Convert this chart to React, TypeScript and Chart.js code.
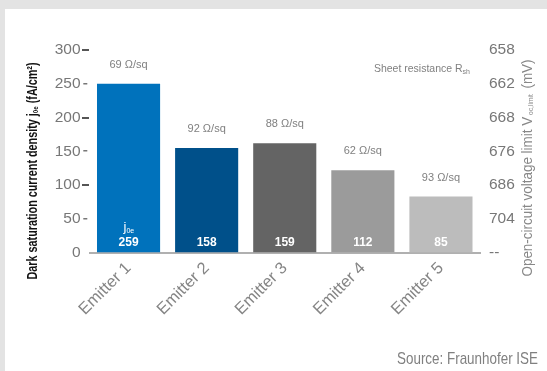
import { useEffect, useRef } from 'react';
import { Chart, registerables } from 'chart.js';

Chart.register(...registerables);

const categories = ['Emitter 1', 'Emitter 2', 'Emitter 3', 'Emitter 4', 'Emitter 5'];
const barHeights = [250, 155, 162, 122, 83];
const j0eLabels = ['259', '158', '159', '112', '85'];
const sheetResistance = ['69 Ω/sq', '92 Ω/sq', '88 Ω/sq', '62 Ω/sq', '93 Ω/sq'];
const barColors = ['#0072bc', '#00508a', '#646464', '#9b9b9b', '#bcbcbc'];
const leftTicks = [0, 50, 100, 150, 200, 250, 300];
const rightTickLabels = ['--', '704', '686', '676', '668', '662', '658'];

const FONT = "'Liberation Sans', Arial, sans-serif";

type Part = { text: string; size: number; dy: number };

function drawRich(ctx: CanvasRenderingContext2D, parts: Part[], cx: number, cy: number, weight: string, color: string, target: number, rotate: boolean) {
  ctx.save();
  let total = 0;
  const widths = parts.map(p => {
    ctx.font = `${weight} ${p.size}px ${FONT}`;
    const w = ctx.measureText(p.text).width;
    total += w;
    return w;
  });
  const sx = target > 0 ? target / total : 1;
  ctx.translate(cx, cy);
  if (rotate) ctx.rotate(-Math.PI / 2);
  ctx.scale(sx, 1);
  ctx.fillStyle = color;
  ctx.textBaseline = 'middle';
  ctx.textAlign = 'left';
  let x = -total / 2;
  parts.forEach((p, i) => {
    ctx.font = `${weight} ${p.size}px ${FONT}`;
    ctx.fillText(p.text, x, p.dy);
    x += widths[i];
  });
  ctx.restore();
}

const annotPlugin = {
  id: 'annot',
  afterDraw(chart: any) {
    const ctx: CanvasRenderingContext2D = chart.ctx;
    const ys = chart.scales.y;
    const area = chart.chartArea;
    // left tick dashes
    leftTicks.forEach(v => {
      if (v === 0) return;
      const py = Math.round(ys.getPixelForValue(v));
      if (v % 100 === 0) {
        ctx.fillStyle = '#555';
        ctx.fillRect(area.left - 7.5, py - 1, 7, 2);
      } else {
        ctx.fillStyle = '#777';
        ctx.fillRect(area.left - 6.2, py - 1, 4, 1.5);
      }
    });
    // bar annotations
    const meta = chart.getDatasetMeta(0);
    meta.data.forEach((el: any, i: number) => {
      ctx.save();
      ctx.textAlign = 'center';
      ctx.textBaseline = 'middle';
      ctx.fillStyle = '#808080';
      ctx.font = `11px ${FONT}`;
      ctx.fillText(sheetResistance[i], el.x, el.y - 19);
      ctx.fillStyle = '#ffffff';
      ctx.font = `bold 12px ${FONT}`;
      ctx.fillText(j0eLabels[i], el.x, el.base - 10);
      if (i === 0) {
        ctx.font = `13px ${FONT}`;
        ctx.textAlign = 'left';
        const jw = ctx.measureText('j').width;
        ctx.fillText('j', el.x - 5, el.base - 25);
        ctx.font = `7px ${FONT}`;
        ctx.fillText('0e', el.x - 5 + jw, el.base - 21);
      }
      ctx.restore();
    });
    // sheet resistance legend
    ctx.save();
    ctx.fillStyle = '#808080';
    ctx.textBaseline = 'middle';
    ctx.textAlign = 'right';
    ctx.font = `7px ${FONT}`;
    const subW = ctx.measureText('sh').width;
    ctx.fillText('sh', area.right - 10, area.top + 22);
    ctx.font = `10.5px ${FONT}`;
    ctx.fillText('Sheet resistance R', area.right - 10 - subW, area.top + 19);
    ctx.restore();
    // left title
    drawRich(ctx, [
      { text: 'Dark saturation current density j', size: 14, dy: 0 },
      { text: '0e', size: 8, dy: 3 },
      { text: ' (fA/cm²)', size: 14, dy: 0 },
    ], 28, 162, 'bold', '#111', 217, true);
    // right title
    drawRich(ctx, [
      { text: 'Open-circuit voltage limit V', size: 14, dy: 0 },
      { text: ' oc,limit ', size: 7, dy: 3 },
      { text: ' (mV)', size: 14, dy: 0 },
    ], 523, 159, 'normal', '#888', 217, true);
    // source
    ctx.save();
    ctx.font = `17px ${FONT}`;
    const sw = ctx.measureText('Source: Fraunhofer ISE').width;
    const sx = 141 / sw;
    ctx.translate(533, 355);
    ctx.scale(sx, 1);
    ctx.fillStyle = '#808080';
    ctx.textAlign = 'right';
    ctx.textBaseline = 'alphabetic';
    ctx.fillText('Source: Fraunhofer ISE', 0, 0);
    ctx.restore();
  },
};

export default function App() {
  const ref = useRef<HTMLCanvasElement | null>(null);
  useEffect(() => {
    if (!ref.current) return;
    const chart = new Chart(ref.current, {
      type: 'bar',
      data: {
        labels: categories,
        datasets: [
          {
            data: barHeights,
            backgroundColor: barColors,
            barPercentage: 0.808,
            categoryPercentage: 1,
            yAxisID: 'y',
          },
        ],
      },
      options: {
        animation: false,
        responsive: true,
        maintainAspectRatio: false,
        layout: { padding: { top: 41, left: 0, right: 0, bottom: 0 } },
        plugins: { legend: { display: false }, tooltip: { enabled: false } },
        scales: {
          x: {
            grid: { display: false, drawTicks: false },
            border: { display: true, color: '#b0b0b0', width: 2 },
            ticks: {
              color: '#858585',
              font: { size: 16.5, family: FONT },
              maxRotation: 45,
              minRotation: 45,
              padding: 6,
            },
            afterFit: (s: any) => { s.height = 118.5; },
          },
          y: {
            position: 'left',
            min: 0,
            max: 300,
            grid: { display: false, drawTicks: false },
            border: { display: false },
            ticks: {
              stepSize: 50,
              color: '#777',
              font: { size: 15.5, family: FONT },
              padding: 9,
            },
            afterFit: (s: any) => { s.width = 84.5; },
          },
          y2: {
            position: 'right',
            min: 0,
            max: 300,
            grid: { display: false, drawTicks: false },
            border: { display: false },
            ticks: {
              stepSize: 50,
              color: '#777',
              font: { size: 15.5, family: FONT },
              padding: 9,
              callback: (_v: any, i: number) => rightTickLabels[i],
            },
            afterFit: (s: any) => { s.width = 67; },
          },
        },
      },
      plugins: [annotPlugin],
    });
    return () => chart.destroy();
  }, []);
  return (
    <div style={{ position: 'fixed', left: 0, top: 0, width: 547, height: 371, background: '#e3e3e3' }}>
      <div style={{ position: 'absolute', left: 5, top: 9, width: 542, height: 362, background: '#fff' }}>
        <canvas ref={ref} />
      </div>
    </div>
  );
}
